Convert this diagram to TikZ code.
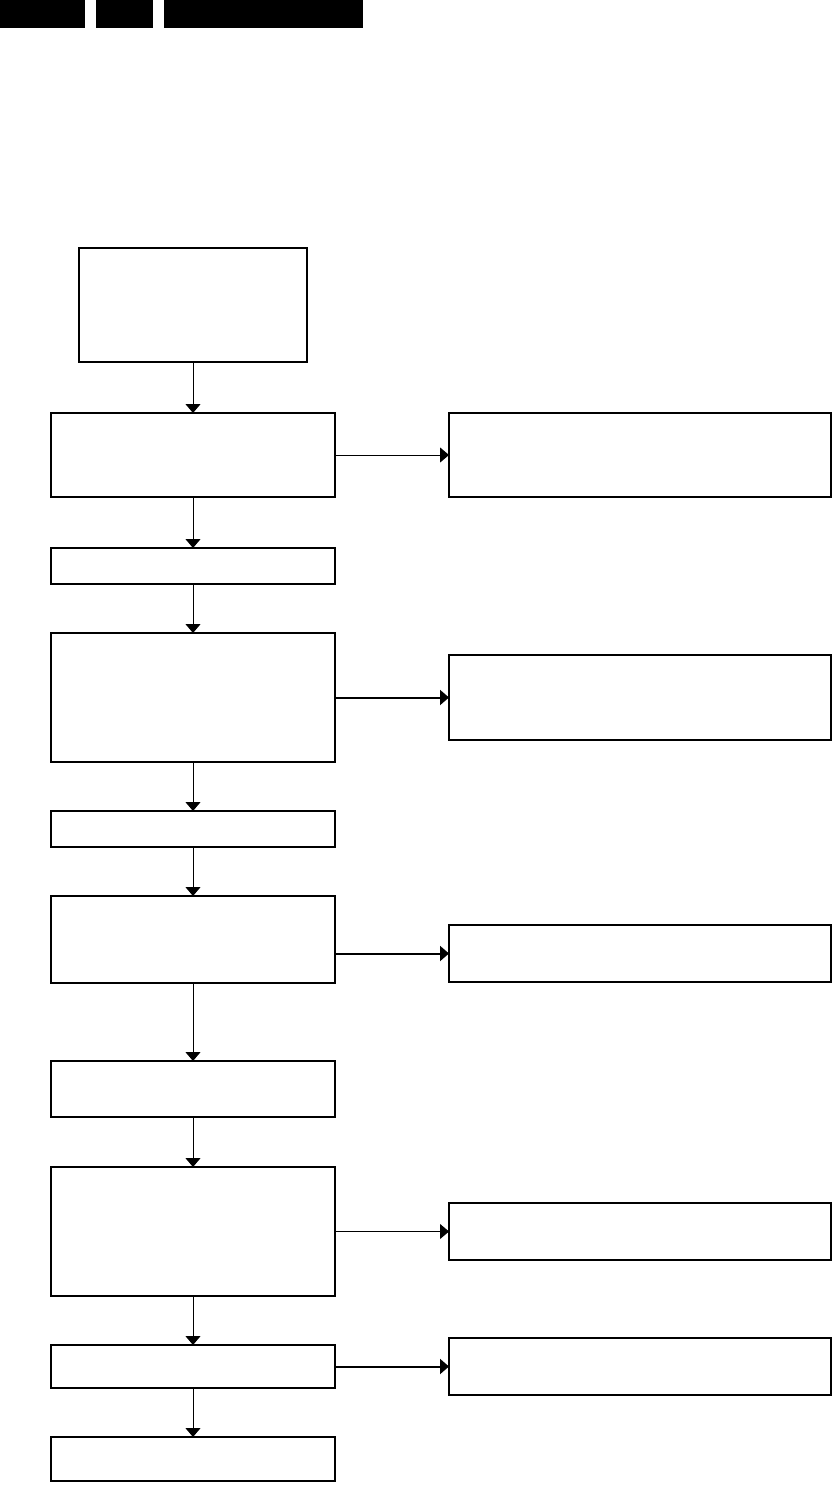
\documentclass[tikz,border=0pt]{standalone}
\usetikzlibrary{arrows.meta}
\begin{document}
\begin{tikzpicture}[x=1pt,y=-1pt,
  box/.style={draw,line width=1.4pt,rectangle,inner sep=0pt,outer sep=0pt},
  conn/.style={line width=1pt,-{Triangle[length=9pt,width=15pt]}},
  thickconn/.style={conn,line width=2pt}]
\useasboundingbox (0,0) rectangle (834,1493);
% header bars
\fill (0,0) rectangle (85,28);
\fill (96,0) rectangle (153,28);
\fill (164,0) rectangle (363,28);
% left column
\node[box,minimum width=228pt,minimum height=114pt] (b0) at (193,305) {};
\node[box,minimum width=284pt,minimum height=84pt] (b1) at (193,455) {};
\node[box,minimum width=284pt,minimum height=36pt] (b2) at (193,566) {};
\node[box,minimum width=284pt,minimum height=129pt] (b3) at (193,697.5) {};
\node[box,minimum width=284pt,minimum height=36pt] (b4) at (193,829) {};
\node[box,minimum width=284pt,minimum height=87pt] (b5) at (193,939.5) {};
\node[box,minimum width=284pt,minimum height=56pt] (b6) at (193,1089) {};
\node[box,minimum width=284pt,minimum height=129pt] (b7) at (193,1231.5) {};
\node[box,minimum width=284pt,minimum height=43pt] (b8) at (193,1366.5) {};
\node[box,minimum width=284pt,minimum height=44pt] (b9) at (193,1459) {};
% right column
\node[box,minimum width=382pt,minimum height=84pt] (r1) at (640,455) {};
\node[box,minimum width=382pt,minimum height=85pt] (r2) at (640,697.5) {};
\node[box,minimum width=382pt,minimum height=57pt] (r3) at (640,953.5) {};
\node[box,minimum width=382pt,minimum height=57pt] (r4) at (640,1231.5) {};
\node[box,minimum width=382pt,minimum height=57pt] (r5) at (640,1366.5) {};
% vertical connectors
\foreach \a/\b in {b0/b1,b1/b2,b2/b3,b3/b4,b4/b5,b5/b6,b6/b7,b7/b8,b8/b9}
  \draw[conn] (\a.south) -- (\b.north);
% horizontal connectors
\draw[conn] (b1.east) -- (r1.west);
\draw[thickconn] (b3.east) -- (r2.west);
\draw[thickconn] (b5.east |- r3.west) -- (r3.west);
\draw[conn] (b7.east) -- (r4.west);
\draw[thickconn] (b8.east) -- (r5.west);
\end{tikzpicture}
\end{document}
